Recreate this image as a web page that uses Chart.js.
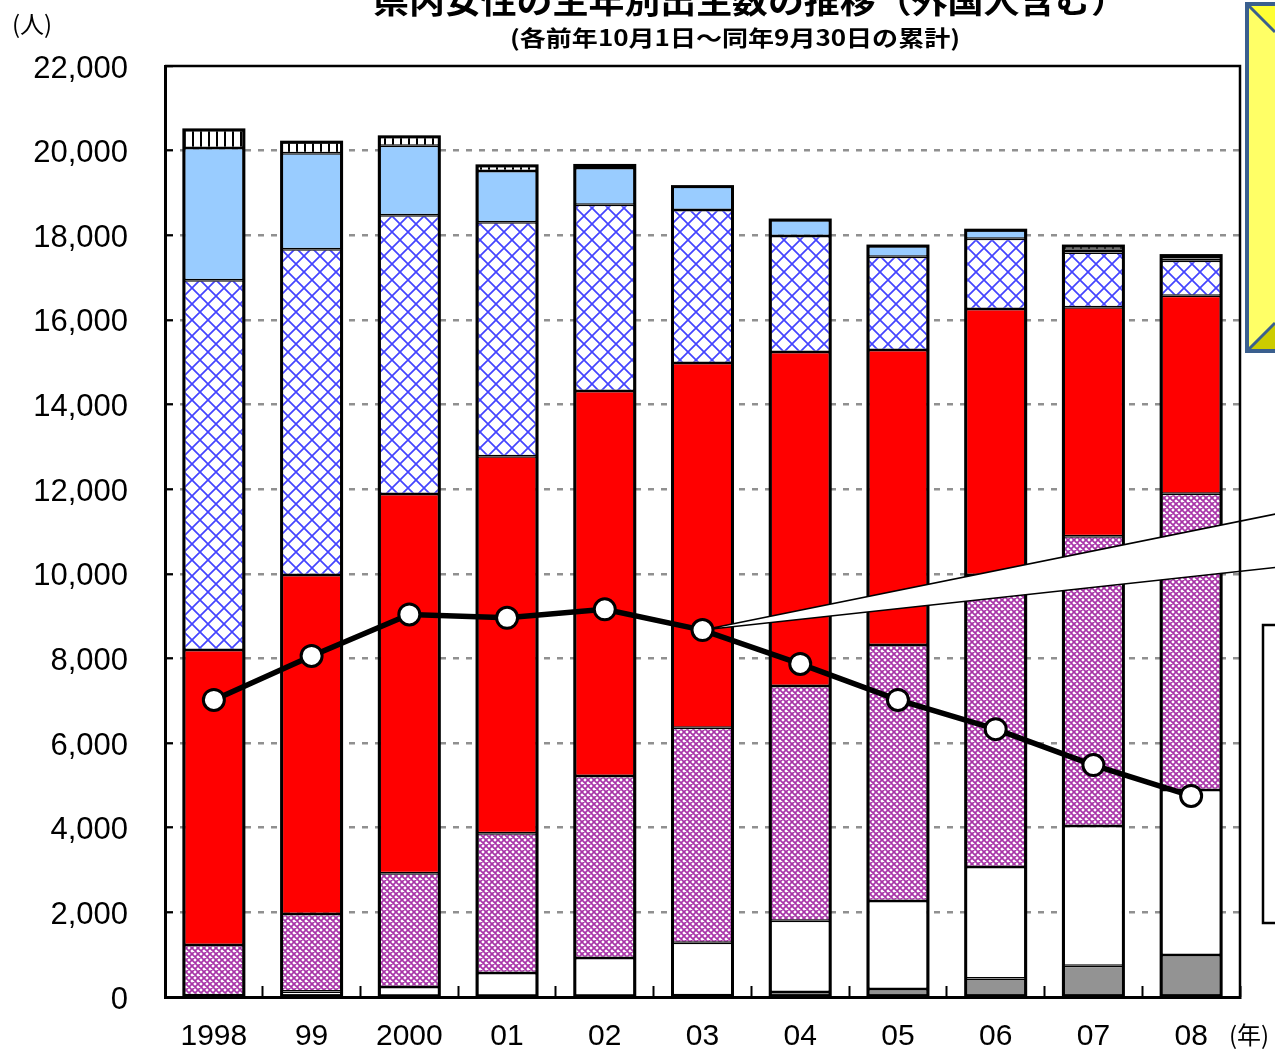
<!DOCTYPE html>
<html lang="ja">
<head>
<meta charset="utf-8">
<script src="https://cdn.jsdelivr.net/npm/chart.js@4.4.1/dist/chart.umd.min.js"></script>
<style>
html,body{margin:0;padding:0;background:#fff;overflow:hidden;}
#c{display:block;}
</style>
</head>
<body>
<canvas id="c" width="1275" height="1052"></canvas>
<script>
// 年次（各前年10月1日～同年9月30日）
const years = ['1998', '99', '2000', '01', '02', '03', '04', '05', '06', '07', '08'];
const yTickStep = 2000;
const yMax = 22000;

// 積み上げ棒の各区分（下から順）
const seriesGray      = [15, 30, 10, 10, 15, 40, 120, 190, 440, 740, 990];
const seriesWhite     = [25, 100, 226, 560, 905, 1240, 1680, 2080, 2630, 3300, 3900];
const seriesPurple    = [1190, 1830, 2690, 3300, 4300, 5080, 5550, 6050, 6900, 6850, 7000];
const seriesRed       = [6970, 8010, 8960, 8910, 9100, 8620, 7890, 6970, 6290, 5410, 4680];
const seriesCross     = [8740, 7700, 6590, 5530, 4400, 3620, 2740, 2200, 1660, 1290, 830];
const seriesLightBlue = [3120, 2270, 1640, 1210, 870, 550, 380, 255, 200, 70, 50];
const seriesStriped   = [430, 260, 210, 120, 60, 0, 0, 0, 0, 85, 70];

// 折れ線
const lineValues = [7020, 8060, 9040, 8960, 9160, 8670, 7870, 7020, 6330, 5480, 4750];

// ---- fill patterns ----
function makePattern(size, draw) {
  const c = document.createElement('canvas');
  c.width = size; c.height = size;
  const g = c.getContext('2d');
  draw(g, size);
  return g.createPattern(c, 'repeat');
}
function crossHatch(color, width, bg) {
  return (g, s) => {
    g.fillStyle = bg; g.fillRect(0, 0, s, s);
    g.strokeStyle = color; g.lineWidth = width;
    g.beginPath();
    for (let k = -1; k <= 1; k++) {
      g.moveTo(k * s - 2, -2); g.lineTo(k * s + s + 2, s + 2);
      g.moveTo(k * s - 2, s + 2); g.lineTo(k * s + s + 2, -2);
    }
    g.stroke();
  };
}
const patBlueCross = makePattern(16, crossHatch('#4444ff', 1.7, '#ffffff'));
const patPurple = makePattern(6, crossHatch('#a834a8', 1.7, '#ffffff'));
const patStripes = makePattern(8, (g, s) => {
  g.fillStyle = '#ffffff'; g.fillRect(0, 0, s, s);
  g.fillStyle = '#000000'; g.fillRect(0, 0, 2, s);
});

const barCommon = {
  type: 'bar', stack: 'ages', order: 1,
  borderColor: '#000', borderWidth: 1.5, borderSkipped: false,
  barPercentage: 0.614, categoryPercentage: 1
};

const datasets = [
  { ...barCommon, label: '区分1', data: seriesGray, backgroundColor: '#939393' },
  { ...barCommon, label: '区分2', data: seriesWhite, backgroundColor: '#ffffff' },
  { ...barCommon, label: '区分3', data: seriesPurple, backgroundColor: patPurple },
  { ...barCommon, label: '区分4', data: seriesRed, backgroundColor: '#ff0000' },
  { ...barCommon, label: '区分5', data: seriesCross, backgroundColor: patBlueCross },
  { ...barCommon, label: '区分6', data: seriesLightBlue, backgroundColor: '#99ccff' },
  { ...barCommon, label: '区分7', data: seriesStriped, backgroundColor: patStripes },
  {
    type: 'line', label: '推移', data: lineValues, stack: 'line', order: 0,
    borderColor: '#000', borderWidth: 5.5, tension: 0,
    pointRadius: 10.5, pointHoverRadius: 10.5,
    pointBackgroundColor: '#fff', pointBorderColor: '#000', pointBorderWidth: 3
  }
];
const lineIndex = datasets.length - 1;
const barCount = datasets.length - 1;

// stack outlines, callout wedge (drawn just before the line)
const overlayPlugin = {
  id: 'overlay',
  beforeDatasetDraw(chart, args, opts) {
    if (args.index !== lineIndex) return;
    const ctx = chart.ctx;
    const first = chart.getDatasetMeta(0).data;
    const last = chart.getDatasetMeta(barCount - 1).data;
    ctx.save();
    ctx.strokeStyle = '#000';
    ctx.lineWidth = 3;
    for (let i = 0; i < first.length; i++) {
      const b = first[i], t = last[i];
      const w = b.width;
      ctx.strokeRect(b.x - w / 2, t.y, w, b.base - t.y);
    }
    // callout wedge toward the off-side note
    const yS = chart.scales.y;
    const p = chart.getDatasetMeta(lineIndex).data[opts.calloutIndex];
    const ex = chart.width + 4;
    const ey1 = yS.getPixelForValue(opts.calloutTop);
    const ey2 = yS.getPixelForValue(opts.calloutBottom);
    ctx.beginPath();
    ctx.moveTo(p.x, p.y);
    ctx.lineTo(ex, ey1);
    ctx.lineTo(ex, ey2);
    ctx.closePath();
    ctx.fillStyle = '#fff';
    ctx.fill();
    ctx.lineWidth = 1.5;
    ctx.beginPath();
    ctx.moveTo(ex, ey1); ctx.lineTo(p.x, p.y); ctx.lineTo(ex, ey2);
    ctx.stroke();
    ctx.restore();
  }
};

function fitText(ctx, text, cx, y, targetW) {
  const w = ctx.measureText(text).width;
  ctx.save();
  ctx.translate(cx, y);
  ctx.scale(targetW / w, 1);
  ctx.textAlign = 'center';
  ctx.fillText(text, 0, 0);
  ctx.restore();
}

const decorPlugin = {
  id: 'decor',
  afterDraw(chart) {
    const ctx = chart.ctx;
    const a = chart.chartArea;
    ctx.save();
    // top and right frame
    ctx.strokeStyle = '#000';
    ctx.lineWidth = 2.5;
    ctx.beginPath();
    ctx.moveTo(a.left, a.top); ctx.lineTo(a.right, a.top); ctx.lineTo(a.right, a.bottom);
    ctx.stroke();

    // bevelled note box (yellow)
    const x0 = 1248, y0 = 5, y1 = 350, d = 27, far = 1400;
    ctx.fillStyle = '#ffff33';
    ctx.beginPath(); ctx.moveTo(x0, y0); ctx.lineTo(far, y0); ctx.lineTo(far, y0 + d); ctx.lineTo(x0 + d, y0 + d); ctx.closePath(); ctx.fill();
    ctx.fillStyle = '#ffff66';
    ctx.beginPath(); ctx.moveTo(x0, y0); ctx.lineTo(x0 + d, y0 + d); ctx.lineTo(x0 + d, y1 - d); ctx.lineTo(x0, y1); ctx.closePath(); ctx.fill();
    ctx.fillStyle = '#cccc00';
    ctx.beginPath(); ctx.moveTo(x0, y1); ctx.lineTo(x0 + d, y1 - d); ctx.lineTo(far, y1 - d); ctx.lineTo(far, y1); ctx.closePath(); ctx.fill();
    ctx.strokeStyle = '#3a5f8e';
    ctx.lineWidth = 3;
    ctx.beginPath();
    ctx.moveTo(x0, y0); ctx.lineTo(x0 + d, y0 + d);
    ctx.moveTo(x0, y1); ctx.lineTo(x0 + d, y1 - d);
    ctx.stroke();
    ctx.lineWidth = 4;
    ctx.strokeRect(x0 - 1, y0 - 1, far, y1 - y0 + 2);

    // legend frame
    ctx.fillStyle = '#fff';
    ctx.fillRect(1263, 625, 100, 298);
    ctx.strokeStyle = '#000';
    ctx.lineWidth = 2.5;
    ctx.strokeRect(1263, 625, 100, 298);

    // titles
    ctx.fillStyle = '#000';
    ctx.textBaseline = 'alphabetic';
    ctx.font = 'bold 32px "Noto Sans CJK JP"';
    fitText(ctx, '県内女性の生年別出生数の推移（外国人含む）', 750, 13, 754);
    ctx.textBaseline = 'middle';
    ctx.font = 'bold 22px "Noto Sans CJK JP"';
    fitText(ctx, '(各前年10月1日～同年9月30日の累計)', 735, 38, 450);

    // unit labels
    ctx.font = '24px "Noto Sans CJK JP"';
    ctx.textAlign = 'left';
    ctx.fillText('(人)', 12, 24);
    ctx.fillText('(年)', 1229, 1035);
    ctx.restore();
  }
};

Chart.defaults.font.family = '"Liberation Sans", Arial, sans-serif';
Chart.defaults.color = '#000';

new Chart(document.getElementById('c'), {
  data: { labels: years, datasets },
  options: {
    responsive: false,
    devicePixelRatio: 1,
    animation: false,
    layout: { padding: { top: 66, right: 35, left: 0, bottom: 0 } },
    plugins: {
      legend: { display: false },
      tooltip: { enabled: false },
      overlay: { calloutIndex: 5, calloutTop: 11430, calloutBottom: 10160 }
    },
    scales: {
      x: {
        stacked: true,
        offset: true,
        grid: { offset: true, drawOnChartArea: false, drawTicks: true, tickLength: -11, tickColor: '#000', tickWidth: 2 },
        border: { display: true, color: '#000', width: 3 },
        ticks: { color: '#000', font: { size: 30 }, padding: 33, maxRotation: 0, autoSkip: false },
        afterFit(s) { s.height = 55; s.paddingLeft = 0; s.paddingRight = 0; }
      },
      y: {
        stacked: true,
        min: 0,
        max: yMax,
        ticks: {
          stepSize: yTickStep, color: '#000', font: { size: 31 }, padding: 45, labelOffset: 3,
          callback: v => v.toLocaleString('en-US')
        },
        grid: {
          color: c => (c.tick && (c.tick.value === 0 || c.tick.value === yMax)) ? 'rgba(0,0,0,0)' : '#909090',
          lineWidth: 2.5,
          drawTicks: true, tickLength: -8, tickColor: '#000', tickWidth: 2, tickBorderDash: []
        },
        border: { display: true, color: '#000', width: 3, dash: [6, 7] },
        afterFit(s) { s.width = 165; s.paddingTop = 0; s.paddingBottom = 0; }
      }
    }
  },
  plugins: [overlayPlugin, decorPlugin]
});
</script>
</body>
</html>
